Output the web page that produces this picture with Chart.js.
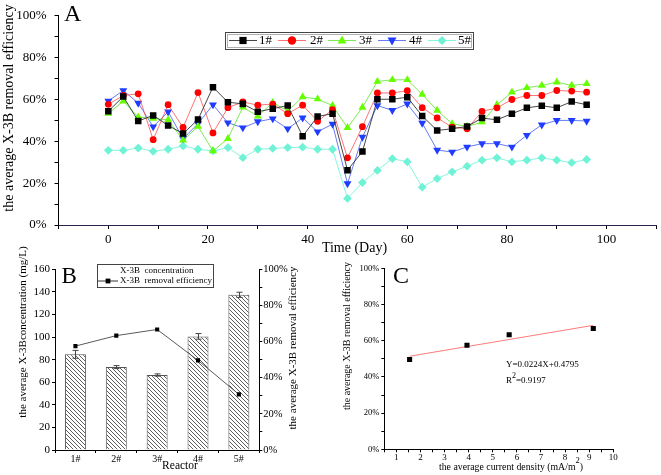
<!DOCTYPE html>
<html><head><meta charset="utf-8">
<script src="https://cdn.jsdelivr.net/npm/chart.js@4.4.1/dist/chart.umd.min.js"></script>
<style>
html,body{margin:0;padding:0;background:#fff;}
#wrap{position:relative;width:661px;height:475px;overflow:hidden;background:#fff;}
canvas{position:absolute;}
</style></head><body>
<div id="wrap">
<canvas id="cA" width="661" height="255" style="left:0;top:0"></canvas>
<canvas id="cB" width="330" height="235" style="left:0;top:240px"></canvas>
<canvas id="cC" width="331" height="220" style="left:330px;top:255px"></canvas>
</div>
<script>
// ---------- DATA ----------
// Panel A: removal efficiency (%) vs time (day)
const days = [0,3,6,9,12,15,18,21,24,27,30,33,36,39,42,45,48,51,54,57,60,63,66,69,72,75,78,81,84,87,90,93,96];
const reactor1 = [54.4,61.4,49.7,52.4,47.6,43.7,50.4,65.9,58.7,57.9,54.1,55.6,57.1,42.4,51.9,53.2,26.2,35.1,60.1,60.1,61.1,52.1,45.2,46.0,47.1,51.1,50.3,53.2,56.0,57.0,56.0,59.0,57.5];
const reactor2 = [57.7,61.9,62.7,40.8,57.5,46.6,63.3,44.0,56.1,58.8,57.3,57.8,53.2,57.3,49.6,55.1,32.1,47.0,63.1,63.1,64.2,56.1,51.2,46.8,46.0,54.3,56.0,60.0,61.9,61.9,64.3,64.0,63.5];
const reactor3 = [53.3,59.2,51.6,50.9,50.3,40.5,47.1,35.4,41.3,56.3,52.0,58.5,54.5,61.2,60.2,57.1,46.5,56.2,68.6,69.4,69.4,62.4,54.8,48.4,47.1,49.2,57.5,63.5,65.6,66.7,68.3,66.7,67.5];
const reactor4 = [59.3,64.3,58.3,47.0,54.1,41.3,48.4,57.5,48.9,46.5,49.4,50.8,46.0,51.2,44.6,48.2,19.8,42.0,57.1,54.8,57.9,48.7,35.8,34.9,37.3,38.9,38.9,37.3,42.9,47.9,50.0,50.0,49.7];
const reactor5 = [35.7,35.7,36.8,35.2,36.2,37.8,36.2,35.4,37.0,32.2,36.2,36.6,37.0,37.2,36.2,36.2,12.7,20.3,26.1,31.7,30.2,18.1,22.2,25.4,28.1,31.0,32.1,30.2,31.0,32.1,31.0,29.8,31.3];
const seriesLabelsA = ['1#','2#','3#','4#','5#'];

// Panel B: average concentration (mg/L) and removal efficiency (%) per reactor
const reactors = ['1#','2#','3#','4#','5#'];
const concentrationB = [84.7, 73.4, 66.4, 100.6, 137.4];
const concentrationErrB = [3.5, 1.3, 1.0, 2.5, 2.3];
const efficiencyB = [57.5, 63.3, 66.7, 49.6, 30.8];

// Panel C: removal efficiency (%) vs current density (mA/m2)
const currentDensity = [1.55, 3.93, 5.68, 9.17];
const efficiencyC = [49.6, 57.5, 63.3, 66.7];
const fitSlope = 0.0224, fitIntercept = 0.4795, fitR2 = 0.9197;

// ---------- HELPERS ----------
const SERIF = '"Liberation Serif", "Times New Roman", serif';
Chart.defaults.font.family = SERIF;
Chart.defaults.color = '#000';

function marker(ctx, m) {
  const {style, x, y, r} = m;
  ctx.fillStyle = m.color;
  ctx.beginPath();
  if (style === 'rect') ctx.rect(x - r, y - r, 2*r, 2*r);
  else if (style === 'circle') ctx.arc(x, y, r, 0, 2*Math.PI);
  else if (style === 'triangle') { ctx.moveTo(x, y - r); ctx.lineTo(x + r*0.9, y + r*0.6); ctx.lineTo(x - r*0.9, y + r*0.6); ctx.closePath(); }
  else if (style === 'triangleDown') { ctx.moveTo(x, y + r); ctx.lineTo(x + r*0.9, y - r*0.6); ctx.lineTo(x - r*0.9, y - r*0.6); ctx.closePath(); }
  else if (style === 'diamond') { ctx.moveTo(x, y - r); ctx.lineTo(x + r, y); ctx.lineTo(x, y + r); ctx.lineTo(x - r, y); ctx.closePath(); }
  ctx.fill();
}

function drawTextItem(ctx, it) {
  ctx.save();
  ctx.fillStyle = it.color || '#000';
  ctx.textBaseline = it.baseline || 'alphabetic';
  ctx.translate(it.x, it.y);
  if (it.rot) ctx.rotate(it.rot);
  const parts = it.parts || [{t: it.text}];
  const supSize = it.supSize || it.size * 0.8;
  const fontFor = p => (p.sup ? supSize : it.size) + 'px ' + SERIF;
  let total = 0;
  parts.forEach(p => { ctx.font = fontFor(p); p.w = ctx.measureText(p.t).width; total += p.w; });
  let x0 = it.align === 'center' ? -total/2 : (it.align === 'right' ? -total : 0);
  ctx.textAlign = 'left';
  parts.forEach(p => {
    ctx.font = fontFor(p);
    ctx.fillText(p.t, x0, p.sup ? -(it.supRise || it.size*0.45) : 0);
    x0 += p.w;
  });
  ctx.restore();
}

const textPlugin = {
  id: 'texts',
  afterDraw(chart, args, opts) {
    const ctx = chart.ctx;
    const lg = opts.legend;
    if (lg) {
      ctx.save();
      ctx.fillStyle = '#fff';
      const [bx0, by0, bx1, by1] = lg.box;
      ctx.fillRect(bx0, by0, bx1 - bx0, by1 - by0);
      ctx.lineWidth = 1;
      ctx.strokeStyle = '#444';
      ctx.strokeRect(bx0 + 0.5, by0 + 0.5, bx1 - bx0, by1 - by0);
      if (lg.double) {
        ctx.strokeStyle = '#b0b0b0';
        ctx.strokeRect(bx0 + 2.5, by0 + 2.5, bx1 - bx0 - 4, by1 - by0 - 4);
      }
      lg.items.forEach(e => {
        if (e.line) {
          ctx.strokeStyle = e.line.color; ctx.lineWidth = 1;
          ctx.beginPath(); ctx.moveTo(e.line.x0, e.line.y); ctx.lineTo(e.line.x1, e.line.y); ctx.stroke();
        }
        if (e.marker) marker(ctx, e.marker);
        drawTextItem(ctx, {text: e.text, x: e.tx, y: e.ty, size: e.size, baseline: 'middle'});
      });
      ctx.restore();
    }
    (opts.items || []).forEach(it => drawTextItem(ctx, it));
  }
};

const errorBarPlugin = {
  id: 'errbars',
  afterDatasetsDraw(chart, args, opts) {
    if (!opts || opts.datasetIndex === undefined) return;
    const ds = chart.data.datasets[opts.datasetIndex];
    const meta = chart.getDatasetMeta(opts.datasetIndex);
    const ys = chart.scales[ds.yAxisID];
    const ctx = chart.ctx;
    ctx.save();
    ctx.strokeStyle = opts.color; ctx.lineWidth = 1;
    meta.data.forEach((el, i) => {
      const v = ds.data[i], e = opts.errors[i];
      const yTop = ys.getPixelForValue(v + e), yBot = ys.getPixelForValue(v - e);
      const x = Math.round(el.x) + 0.5;
      ctx.beginPath();
      ctx.moveTo(x, yTop); ctx.lineTo(x, yBot);
      ctx.moveTo(x - 3, yTop); ctx.lineTo(x + 3, yTop);
      ctx.moveTo(x - 3, yBot); ctx.lineTo(x + 3, yBot);
      ctx.stroke();
    });
    ctx.restore();
  }
};

function axisGrid(len) { return {drawOnChartArea: false, drawTicks: true, tickLength: len, color: '#000', lineWidth: 1}; }

// ---------- PANEL A ----------
const styleA = [
  {values: reactor1, color: '#000000', line: 'rgba(40,40,40,0.85)', pointStyle: 'rect', r: 4.6, rot: 0, lg: 'rect', lr: 3.6},
  {values: reactor2, color: '#ff0000', line: 'rgba(255,70,70,0.75)', pointStyle: 'circle', r: 3.4, rot: 0, lg: 'circle', lr: 4.2},
  {values: reactor3, color: '#66ff00', line: 'rgba(90,230,40,0.8)', pointStyle: 'triangle', r: 4.6, rot: 0, lg: 'triangle', lr: 5},
  {values: reactor4, color: '#1f3cff', line: 'rgba(50,80,240,0.75)', pointStyle: 'triangle', r: 4.6, rot: 180, lg: 'triangleDown', lr: 5},
  {values: reactor5, color: '#6ff2d6', line: 'rgba(110,245,215,0.85)', pointStyle: 'rectRot', r: 4.4, rot: 0, lg: 'diamond', lr: 4.6}
];
const legendA_cx = [243, 292, 342, 392, 442];
const legendA_tx = [259, 310, 359, 409, 458];

new Chart(document.getElementById('cA'), {
  type: 'line',
  data: {
    datasets: styleA.map((s, k) => ({
      label: seriesLabelsA[k],
      data: days.map((d, i) => ({x: d, y: s.values[i]})),
      borderColor: s.line, borderWidth: 1,
      backgroundColor: s.color, pointBackgroundColor: s.color, pointBorderColor: s.color,
      pointBorderWidth: 0, pointStyle: s.pointStyle, pointRadius: s.r, pointRotation: s.rot,
      tension: 0, fill: false
    }))
  },
  options: {
    responsive: false, animation: false, devicePixelRatio: 1,
    layout: {padding: {left: 0, right: 3, top: 15, bottom: 0}},
    plugins: {
      legend: {display: false}, tooltip: {enabled: false},
      texts: {
        legend: {
          box: [225, 32, 473, 49], double: true,
          items: styleA.map((s, k) => ({
            text: seriesLabelsA[k], tx: legendA_tx[k], ty: 41, size: 13,
            line: {x0: legendA_cx[k] - 14, x1: legendA_cx[k] + 14, y: 40.5, color: s.line},
            marker: {style: s.lg, x: legendA_cx[k], y: 40.5, r: s.lr, color: s.color}
          }))
        },
        items: [
          {text: 'A', x: 64, y: 21, size: 24},
          {text: 'the average X-3B removal efficiency', x: 9.5, y: 108, size: 14, rot: -Math.PI/2, align: 'center', baseline: 'middle'},
          {text: 'Time (Day)', x: 354.5, y: 252, size: 14, align: 'center'}
        ]
      }
    },
    scales: {
      x: {
        type: 'linear', min: -10, max: 110,
        afterFit(s) { s.height = 30; },
        ticks: {stepSize: 10, autoSkip: false, maxRotation: 0, padding: 3, font: {size: 13},
          callback: v => (v % 20 === 0 && v >= 0 && v <= 100) ? String(v) : ''},
        grid: axisGrid(4), border: {color: '#26264a', width: 1}
      },
      y: {
        min: 0, max: 100,
        afterFit(s) { s.width = 58.5; },
        ticks: {stepSize: 10, padding: 8, font: {size: 13}, callback: v => v % 20 === 0 ? v + '%' : ''},
        grid: axisGrid(4), border: {color: '#000', width: 1}
      }
    }
  },
  plugins: [textPlugin]
});

// ---------- PANEL B ----------
function hatchPattern() {
  const c = document.createElement('canvas'); c.width = 4; c.height = 4;
  const g = c.getContext('2d');
  g.fillStyle = '#fff'; g.fillRect(0, 0, 4, 4);
  g.strokeStyle = '#4a4a4a'; g.lineWidth = 0.9;
  g.beginPath();
  g.moveTo(-1, -1); g.lineTo(5, 5);
  g.moveTo(3, -1); g.lineTo(5, 1);
  g.moveTo(-1, 3); g.lineTo(1, 5);
  g.stroke();
  return g.createPattern(c, 'repeat');
}

new Chart(document.getElementById('cB'), {
  type: 'bar',
  data: {
    labels: reactors,
    datasets: [
      {type: 'line', label: 'X-3B  removal efficiency', data: efficiencyB, yAxisID: 'y1',
       borderColor: '#5a5a5a', borderWidth: 1, pointStyle: 'rect', pointRadius: 2.9,
       pointBackgroundColor: '#000', pointBorderWidth: 0, tension: 0, order: 0},
      {type: 'bar', label: 'X-3B  concentration', data: concentrationB, yAxisID: 'y',
       backgroundColor: hatchPattern(), borderColor: '#555', borderWidth: 1,
       barPercentage: 0.513, categoryPercentage: 1, order: 1}
    ]
  },
  options: {
    responsive: false, animation: false, devicePixelRatio: 1,
    layout: {padding: {left: 0, right: 20.7, top: 29.3, bottom: 0}},
    plugins: {
      legend: {display: false}, tooltip: {enabled: false},
      errbars: {datasetIndex: 1, errors: concentrationErrB, color: '#444'},
      texts: {
        legend: {
          box: [97, 24, 213, 47],
          items: [
            {text: 'X-3B  concentration', tx: 120, ty: 31, size: 9},
            {text: 'X-3B  removal efficiency', tx: 120, ty: 41, size: 9,
             line: {x0: 98, x1: 118, y: 41, color: '#333'},
             marker: {style: 'rect', x: 108, y: 41, r: 2.4, color: '#000'}}
          ]
        },
        items: [
          {text: 'B', x: 61.5, y: 43, size: 23},
          {text: 'the average X-3Bconcentration (mg/L)', x: 23, y: 92, size: 11, rot: -Math.PI/2, align: 'center', baseline: 'middle'},
          {text: 'the average X-3B removal efficiency', x: 293, y: 108, size: 11, rot: -Math.PI/2, align: 'center', baseline: 'middle'},
          {text: 'Reactor', x: 180, y: 229, size: 11.5, align: 'center'}
        ]
      }
    },
    scales: {
      x: {
        afterFit(s) { s.height = 25; },
        ticks: {padding: 0, font: {size: 10}, maxRotation: 0, autoSkip: false},
        grid: Object.assign(axisGrid(3), {offset: true}), border: {color: '#000', width: 1}
      },
      y: {
        position: 'left', min: 0, max: 160,
        afterFit(s) { s.width = 55; },
        ticks: {stepSize: 10, padding: 2, font: {size: 11}, callback: v => v % 20 === 0 ? String(v) : ''},
        grid: axisGrid(3), border: {color: '#000', width: 1}
      },
      y1: {
        position: 'right', min: 0, max: 100,
        afterFit(s) { s.width = 50; },
        ticks: {stepSize: 10, padding: 1, font: {size: 10.5}, callback: v => v % 20 === 0 ? v + '%' : ''},
        grid: axisGrid(3), border: {color: '#000', width: 1}
      }
    }
  },
  plugins: [textPlugin, errorBarPlugin]
});

// ---------- PANEL C ----------
const xFit0 = currentDensity[0], xFit1 = currentDensity[currentDensity.length - 1];
const fitLine = [xFit0, xFit1].map(x => ({x: x, y: 100 * (fitSlope * x + fitIntercept)}));

new Chart(document.getElementById('cC'), {
  type: 'scatter',
  data: {
    datasets: [
      {label: 'measured', data: currentDensity.map((x, i) => ({x: x, y: efficiencyC[i]})),
       pointStyle: 'rect', pointRadius: 3.6, backgroundColor: '#000', pointBackgroundColor: '#000', pointBorderWidth: 0},
      {label: 'linear fit', data: fitLine, showLine: true, borderColor: '#ff7a7a', borderWidth: 1, pointRadius: 0}
    ]
  },
  options: {
    responsive: false, animation: false, devicePixelRatio: 1,
    layout: {padding: {left: 0, right: 47.7, top: 13.3, bottom: 0}},
    plugins: {
      legend: {display: false}, tooltip: {enabled: false},
      texts: {
        items: [
          {text: 'C', x: 63, y: 28, size: 24},
          {text: 'the average X-3B removal efficiency', x: 17, y: 81, size: 10, rot: -Math.PI/2, align: 'center', baseline: 'middle'},
          {parts: [{t: 'the average current density (mA/m'}, {t: '2', sup: true}, {t: ')'}], x: 181, y: 215, size: 9.8, supSize: 8.5, supRise: 7, align: 'center'},
          {text: 'Y=' + fitSlope + 'X+' + fitIntercept, x: 176, y: 109.5, size: 9, baseline: 'middle'},
          {parts: [{t: 'R'}, {t: '2', sup: true}, {t: '=' + fitR2}], x: 176, y: 125.5, size: 9, supSize: 8, supRise: 5, baseline: 'middle'}
        ]
      }
    },
    scales: {
      x: {
        type: 'linear', min: 0.5, max: 10,
        afterFit(s) { s.height = 25.7; },
        ticks: {stepSize: 0.5, autoSkip: false, maxRotation: 0, padding: 0, font: {size: 9},
          callback: v => Number.isInteger(v) ? String(v) : ''},
        grid: axisGrid(3), border: {color: '#000', width: 1}
      },
      y: {
        min: 0, max: 100,
        afterFit(s) { s.width = 54.3; },
        ticks: {stepSize: 10, padding: 2, font: {size: 8.5}, callback: v => v % 20 === 0 ? v + '%' : ''},
        grid: axisGrid(3), border: {color: '#000', width: 1}
      }
    }
  },
  plugins: [textPlugin]
});
</script>
</body></html>
